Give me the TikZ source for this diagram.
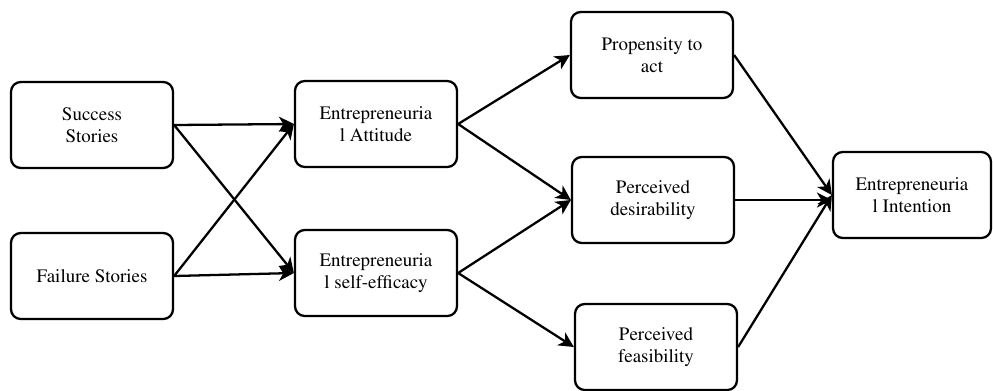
\documentclass[tikz,border=0pt]{standalone}
\usepackage[T1]{fontenc}
\usepackage{mathptmx}
\usetikzlibrary{arrows.meta}

\begin{document}
\begin{tikzpicture}[->,line width=1.3pt,>={Stealth[length=8.5pt,width=8.5pt,inset=2.5pt]},x=0.02cm,y=-0.02cm]
    \tikzstyle{factor}=[draw, rounded corners=5.5pt, minimum width=3.24cm, minimum height=1.72cm, inner sep=0pt, align=center, text=black, fill=white, font=\rmfamily\fontsize{10.8pt}{12.4pt}\selectfont]
    \tikzstyle{outcome}=[style=factor, minimum width=3.16cm]

    \useasboundingbox (0,0) rectangle (993,390);

    \node[factor]  (S) at (92,125)  {Success\\Stories};
    \node[factor]  (F) at (92,276)  {Failure Stories};
    \node[factor]  (A) at (376,124) {Entrepreneuria\\l Attitude};
    \node[factor]  (E) at (376,273) {Entrepreneuria\\l self-efficacy};
    \node[factor]  (P) at (652,55)  {Propensity to\\act};
    \node[factor]  (D) at (653,200) {Perceived\\desirability};
    \node[factor]  (G) at (656,347) {Perceived\\feasibility};
    \node[outcome] (I) at (912,195) {Entrepreneuria\\l Intention};

    \path
     (S.east) edge (A.west)
     (S.east) edge (E.west)
     (F.east) edge (A.west)
     (F.east) edge (E.west)
     (A.east) edge (P.west)
     (A.east) edge (D.west)
     (E.east) edge (D.west)
     (E.east) edge (G.west)
     (P.east) edge (I.west)
     (D.east) edge (D.east -| I.west)
     (G.east) edge (I.west);
\end{tikzpicture}
\end{document}
